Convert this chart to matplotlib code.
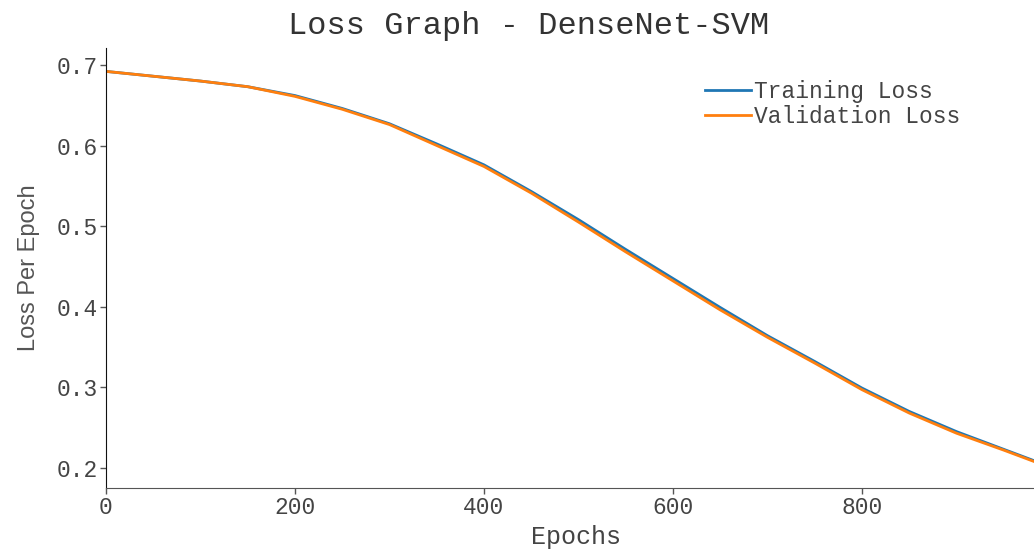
import matplotlib
matplotlib.use('Agg')
import matplotlib.pyplot as plt

# ======================
# DATA
# ======================

epochs = [0, 50, 100, 150, 200, 250, 300, 350, 400, 450, 500,
          550, 600, 650, 700, 750, 800, 850, 900, 950, 1000]

train_loss = [0.692, 0.686, 0.680, 0.673, 0.662, 0.646, 0.627, 0.602, 0.576, 0.543, 0.508,
              0.471, 0.435, 0.399, 0.364, 0.332, 0.299, 0.270, 0.245, 0.223, 0.201]

val_loss = [0.692, 0.686, 0.680, 0.673, 0.661, 0.645, 0.626, 0.600, 0.574, 0.541, 0.505,
            0.468, 0.432, 0.396, 0.362, 0.330, 0.297, 0.268, 0.243, 0.222, 0.200]

y_ticks = [0.2, 0.3, 0.4, 0.5, 0.6, 0.7]
x_ticks = [0, 200, 400, 600, 800]

mono = 'Liberation Mono'
text_grey = '#444444'

# ======================
# PLOT
# ======================

fig = plt.figure(figsize=(10.34, 5.5), dpi=100)
ax = fig.add_axes([0.1025, 0.1127, 0.8975, 0.80])

ax.plot(epochs, train_loss, label='Training Loss', color='#1f77b4', linewidth=2)
ax.plot(epochs, val_loss, label='Validation Loss', color='#ff7f0e', linewidth=2)

ax.set_xlim(0, 982)
ax.set_ylim(0.175, 0.721)
ax.set_xticks(x_ticks)
ax.set_yticks(y_ticks)
ax.set_xticklabels([str(t) for t in x_ticks], family=mono, fontsize=16.5, color=text_grey)
ax.set_yticklabels(['%.1f' % t for t in y_ticks], family=mono, fontsize=16.5, color=text_grey)
ax.tick_params(length=4, width=1, color='#555555', pad=2)

for side in ['top', 'right']:
    ax.spines[side].set_visible(False)
ax.spines['left'].set_color('#111111')
ax.spines['bottom'].set_color('#555555')

ax.set_title('Loss Graph - DenseNet-SVM', family=mono, fontsize=23, color='#333333',
             pad=10, x=0.455)
ax.set_xlabel('Epochs', family=mono, fontsize=18, color=text_grey, labelpad=2)
ax.xaxis.set_label_coords(0.506, -0.085)
ax.set_ylabel('Loss Per Epoch', family=['Liberation Sans', 'DejaVu Sans'],
              fontsize=17, color='#555555', labelpad=12)

ax.legend(loc='upper right', bbox_to_anchor=(0.943, 0.975), frameon=False,
          prop={'family': mono, 'size': 16.5}, handlelength=2.0, handletextpad=0.15,
          labelspacing=0.12, labelcolor=text_grey)

plt.savefig('out.png', dpi=100)
